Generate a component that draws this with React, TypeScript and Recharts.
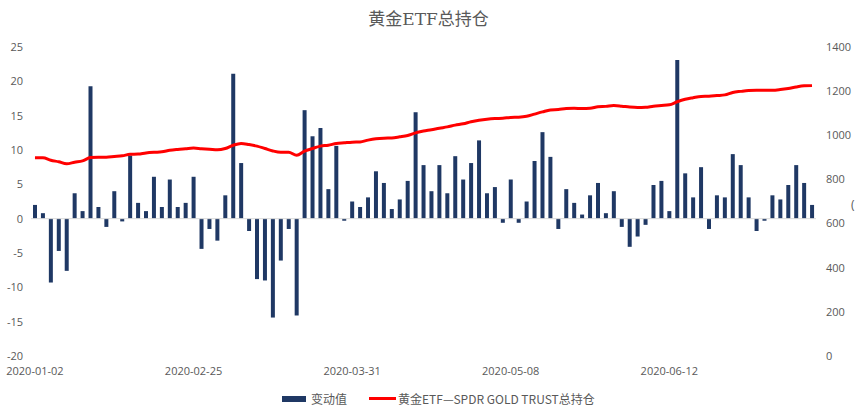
import React from 'react';
import {
  ComposedChart,
  Bar,
  Line,
  XAxis,
  YAxis,
  ReferenceLine,
} from 'recharts';

const dates = [
  '2020-01-02', '2020-01-06', '2020-01-08', '2020-01-10', '2020-01-14', '2020-01-16', '2020-01-21',
  '2020-01-23', '2020-01-27', '2020-01-29', '2020-01-31', '2020-02-04', '2020-02-06', '2020-02-10',
  '2020-02-12', '2020-02-14', '2020-02-18', '2020-02-19', '2020-02-20', '2020-02-24', '2020-02-25',
  '2020-02-26', '2020-02-27', '2020-02-28', '2020-03-02', '2020-03-03', '2020-03-04', '2020-03-06',
  '2020-03-09', '2020-03-10', '2020-03-12', '2020-03-13', '2020-03-16', '2020-03-18', '2020-03-19',
  '2020-03-20', '2020-03-23', '2020-03-25', '2020-03-26', '2020-03-27', '2020-03-31',
  '2020-04-01', '2020-04-02', '2020-04-03', '2020-04-06', '2020-04-08', '2020-04-09', '2020-04-14',
  '2020-04-15', '2020-04-16', '2020-04-17', '2020-04-20', '2020-04-22', '2020-04-23', '2020-04-24',
  '2020-04-28', '2020-04-29', '2020-05-01', '2020-05-04', '2020-05-06', '2020-05-08',
  '2020-05-11', '2020-05-12', '2020-05-13', '2020-05-14', '2020-05-15', '2020-05-18', '2020-05-19',
  '2020-05-20', '2020-05-21', '2020-05-22', '2020-05-26', '2020-05-28', '2020-06-01', '2020-06-02',
  '2020-06-03', '2020-06-04', '2020-06-05', '2020-06-09', '2020-06-10', '2020-06-12',
  '2020-06-15', '2020-06-16', '2020-06-17', '2020-06-18', '2020-06-19', '2020-06-22', '2020-06-23',
  '2020-06-24', '2020-06-25', '2020-06-26', '2020-06-29', '2020-06-30', '2020-07-01', '2020-07-02',
  '2020-07-06', '2020-07-07', '2020-07-08', '2020-07-09',
];

// 变动值 (吨)
const changes = [
  2.0, 0.8, -9.3, -4.7, -7.6, 3.7, 1.1, 19.3, 1.7, -1.2,
  4.0, -0.4, 9.2, 2.3, 1.1, 6.1, 1.7, 5.7, 1.7, 2.3,
  6.1, -4.4, -1.5, -3.2, 3.4, 21.1, 8.1, -1.8, -8.8, -9.0,
  -14.4, -6.1, -1.5, -14.1, 15.8, 12.0, 13.2, 4.3, 10.6, -0.3,
  2.5, 1.7, 3.1, 6.9, 5.2, 1.4, 2.8, 5.5, 15.5, 7.8,
  4.0, 7.8, 3.7, 9.1, 5.7, 8.1, 11.4, 3.7, 4.6, -0.6,
  5.7, -0.6, 2.5, 8.4, 12.6, 9.0, -1.5, 4.3, 2.3, 0.6,
  3.4, 5.2, 0.8, 4.0, -1.2, -4.1, -2.6, -0.9, 4.9, 5.5,
  1.1, 23.1, 6.6, 3.1, 7.5, -1.5, 3.4, 3.1, 9.4, 7.8,
  3.1, -1.8, -0.3, 3.4, 2.8, 4.9, 7.8, 5.2, 2.0,
];

// 黄金ETF—SPDR GOLD TRUST总持仓 (吨)
const holdings = [
  898, 898, 887, 880, 871, 878, 884, 899, 901, 901,
  904, 907, 914, 915, 920, 923, 925, 932, 936, 939,
  942, 939, 937, 934, 940, 955, 963, 958, 951, 940,
  929, 923, 923, 909, 928, 940, 951, 955, 963, 966,
  969, 970, 978, 984, 987, 988, 993, 999, 1011, 1019,
  1025, 1032, 1038, 1046, 1052, 1061, 1068, 1073, 1076, 1077,
  1081, 1082, 1086, 1096, 1106, 1115, 1117, 1121, 1122, 1121,
  1122, 1129, 1131, 1135, 1132, 1128, 1126, 1127, 1132, 1135,
  1138, 1152, 1163, 1170, 1176, 1177, 1180, 1183, 1194, 1199,
  1203, 1204, 1204, 1204, 1207, 1212, 1219, 1224, 1225,
];

const leftTicks = [-20, -15, -10, -5, 0, 5, 10, 15, 20, 25];
const rightTicks = [0, 200, 400, 600, 800, 1000, 1200, 1400];

const data = dates.map((date, i) => ({
  date,
  change: changes[i],
  holding: holdings[i],
}));

const NAVY = '#1F3864';
const RED = '#FF0000';
const TEXT = '#595959';
const FONT = "'Open Sans', 'Noto Sans CJK SC', sans-serif";

export default function App() {
  return (
    <div
      style={{
        position: 'absolute',
        left: 0,
        top: 0,
        width: 857,
        height: 413,
        background: '#fff',
        overflow: 'hidden',
        fontFamily: FONT,
      }}
    >
      <div
        style={{
          position: 'absolute',
          top: 5,
          width: 857,
          textAlign: 'center',
          fontSize: 17,
          color: TEXT,
          fontFamily: "'DejaVu Serif', 'Noto Sans CJK SC', serif",
        }}
      >
        黄金ETF总持仓
      </div>

      <ComposedChart
        width={857}
        height={413}
        data={data}
        margin={{ top: 47, right: 0, bottom: 37, left: 0 }}
        barCategoryGap={0}
      >
        <XAxis
          dataKey="date"
          interval={19}
          axisLine={false}
          tickLine={false}
          height={20}
          dy={3}
          tick={{ fill: TEXT, fontSize: 11, fontFamily: FONT }}
        />
        <YAxis
          yAxisId="left"
          domain={[-20, 25]}
          ticks={leftTicks}
          width={31}
          axisLine={false}
          tickLine={false}
          tick={{ fill: TEXT, fontSize: 11, fontFamily: FONT }}
        />
        <YAxis
          yAxisId="right"
          orientation="right"
          domain={[0, 1400]}
          ticks={rightTicks}
          width={41}
          axisLine={false}
          tickLine={false}
          tickMargin={4}
          tick={{ fill: TEXT, fontSize: 11, fontFamily: FONT }}
        />
        <ReferenceLine yAxisId="left" y={0} stroke="#d9d9d9" strokeWidth={1} />
        <Bar
          yAxisId="left"
          dataKey="change"
          name="变动值"
          fill={NAVY}
          barSize={4}
          isAnimationActive={false}
        />
        <Line
          yAxisId="right"
          type="monotone"
          dataKey="holding"
          name="黄金ETF—SPDR GOLD TRUST总持仓"
          stroke={RED}
          strokeWidth={3}
          dot={false}
          activeDot={false}
          isAnimationActive={false}
        />
      </ComposedChart>

      <div
        style={{
          position: 'absolute',
          top: 390,
          left: 282,
          display: 'flex',
          alignItems: 'center',
          fontSize: 12,
          color: TEXT,
          fontFamily: "'Noto Sans CJK SC', sans-serif",
          whiteSpace: 'nowrap',
        }}
      >
        <span style={{ display: 'inline-block', width: 24, height: 6, background: NAVY, marginRight: 5 }} />
        <span>变动值</span>
        <span style={{ display: 'inline-block', width: 27, height: 3, background: RED, marginLeft: 22, marginRight: 2 }} />
        <span>黄金ETF—SPDR GOLD TRUST总持仓</span>
      </div>

      <div
        style={{
          position: 'absolute',
          left: 851,
          top: 196,
          fontSize: 12,
          color: TEXT,
        }}
      >
        (
      </div>
    </div>
  );
}
